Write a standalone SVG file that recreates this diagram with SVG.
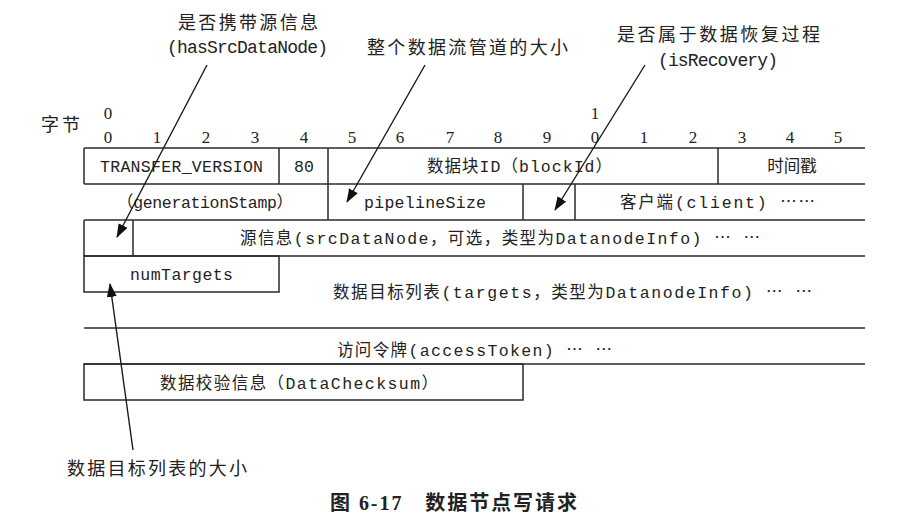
<svg xmlns="http://www.w3.org/2000/svg" width="899" height="529" viewBox="0 0 899 529">
<style>
.ln{stroke:#2a2a2a;stroke-width:1.5;fill:none}
.bx{stroke:#2a2a2a;stroke-width:1.5;fill:none}
.t{font-family:"Liberation Mono","Noto Sans CJK SC",monospace;font-size:16.5px;fill:#222}
.c{text-anchor:middle}
.d{font-family:"Liberation Serif",serif;font-size:17px;fill:#222;text-anchor:middle}
.a{font-family:"Liberation Mono","Noto Sans CJK SC",monospace;font-size:18px;fill:#222}
.cap{font-family:"Liberation Serif","Noto Sans CJK SC",sans-serif;font-size:20px;fill:#222;font-weight:bold}
.ar{stroke:#1a1a1a;stroke-width:1.4;fill:none}
</style>
<defs>
<marker id="ah" viewBox="0 0 14 10" refX="13" refY="5" markerWidth="14" markerHeight="10" markerUnits="userSpaceOnUse" orient="auto">
<path d="M0,0 L14,5 L0,10 Z" fill="#111"/>
</marker>
</defs>
<rect width="899" height="529" fill="#fff"/>

<g id="header">
<text class="a" x="41" y="131" textLength="39">字节</text>
<text class="d" x="108" y="119">0</text>
<text class="d" x="595" y="119">1</text>
<text class="d" x="108" y="143">0</text>
<text class="d" x="157" y="143">1</text>
<text class="d" x="206" y="143">2</text>
<text class="d" x="255" y="143">3</text>
<text class="d" x="304" y="143">4</text>
<text class="d" x="352" y="143">5</text>
<text class="d" x="400" y="143">6</text>
<text class="d" x="450" y="143">7</text>
<text class="d" x="498" y="143">8</text>
<text class="d" x="547" y="143">9</text>
<text class="d" x="595" y="143">0</text>
<text class="d" x="644" y="143">1</text>
<text class="d" x="693" y="143">2</text>
<text class="d" x="742" y="143">3</text>
<text class="d" x="790" y="143">4</text>
<text class="d" x="838" y="143">5</text>
</g>

<g id="row-lines">
<line class="ln" x1="84" y1="148" x2="865" y2="148"/>
<line class="ln" x1="84" y1="184" x2="865" y2="184"/>
<line class="ln" x1="84" y1="220" x2="865" y2="220"/>
<line class="ln" x1="84" y1="256" x2="865" y2="256"/>
<line class="ln" x1="84" y1="328" x2="865" y2="328"/>
<line class="ln" x1="84" y1="364" x2="865" y2="364"/>
</g>

<g id="transferVersion">
<line class="ln" x1="84" y1="148" x2="84" y2="184"/>
<text class="t" x="100" y="172" textLength="163">TRANSFER_VERSION</text>
</g>
<g id="opcode">
<line class="ln" x1="279" y1="148" x2="279" y2="184"/>
<text class="t c" x="304" y="172">80</text>
</g>
<g id="blockId">
<line class="ln" x1="328" y1="148" x2="328" y2="184"/>
<text class="t" x="427" y="172" textLength="185">数据块ID（blockId）</text>
</g>
<g id="timestamp">
<line class="ln" x1="718" y1="148" x2="718" y2="184"/>
<text class="t c" x="792" y="172">时间戳</text>
</g>

<g id="generationStamp">
<text class="t" x="117" y="208" textLength="176">（generationStamp）</text>
</g>
<g id="pipelineSize">
<line class="ln" x1="328" y1="184" x2="328" y2="220"/>
<text class="t" x="364" y="208" textLength="122">pipelineSize</text>
</g>
<g id="isRecovery">
<line class="ln" x1="523" y1="184" x2="523" y2="220"/>
<line class="ln" x1="575" y1="184" x2="575" y2="220"/>
</g>
<g id="client">
<text class="t" x="620" y="208" textLength="195">客户端(client) ⋯⋯</text>
</g>

<g id="hasSrcDataNode">
<line class="ln" x1="84" y1="220" x2="84" y2="256"/>
<line class="ln" x1="133" y1="220" x2="133" y2="256"/>
</g>
<g id="srcDataNode">
<text class="t" x="240" y="244" textLength="520">源信息(srcDataNode，可选，类型为DatanodeInfo) ⋯ ⋯</text>
</g>

<g id="numTargets">
<rect class="bx" x="84" y="256" width="195" height="36"/>
<text class="t" x="130" y="280" textLength="103">numTargets</text>
</g>
<g id="targets">
<text class="t" x="333" y="298" textLength="479">数据目标列表(targets，类型为DatanodeInfo) ⋯ ⋯</text>
</g>

<g id="accessToken">
<text class="t" x="337" y="356" textLength="275">访问令牌(accessToken) ⋯ ⋯</text>
</g>

<g id="checksum">
<rect class="bx" x="84" y="364" width="439" height="36"/>
<text class="t" x="160" y="389" textLength="278">数据校验信息（DataChecksum）</text>
</g>

<g id="labels">
<text class="a" x="178" y="29" textLength="140">是否携带源信息</text>
<text class="a" x="167" y="53" textLength="161">(hasSrcDataNode)</text>
<text class="a" x="367" y="54" textLength="201">整个数据流管道的大小</text>
<text class="a" x="617" y="41" textLength="203">是否属于数据恢复过程</text>
<text class="a" x="658" y="66" textLength="120">(isRecovery)</text>
<text class="a" x="67" y="475" textLength="180">数据目标列表的大小</text>
</g>

<g id="connectors">
<line class="ar" x1="207" y1="65" x2="117" y2="237" marker-end="url(#ah)"/>
<line class="ar" x1="425" y1="65" x2="347" y2="202" marker-end="url(#ah)"/>
<line class="ar" x1="645" y1="65" x2="555" y2="210" marker-end="url(#ah)"/>
<line class="ar" x1="133" y1="450" x2="110" y2="284" marker-end="url(#ah)"/>
</g>

<g id="caption">
<text class="cap" x="330" y="510" textLength="247">图 6-17　数据节点写请求</text>
</g>
</svg>
